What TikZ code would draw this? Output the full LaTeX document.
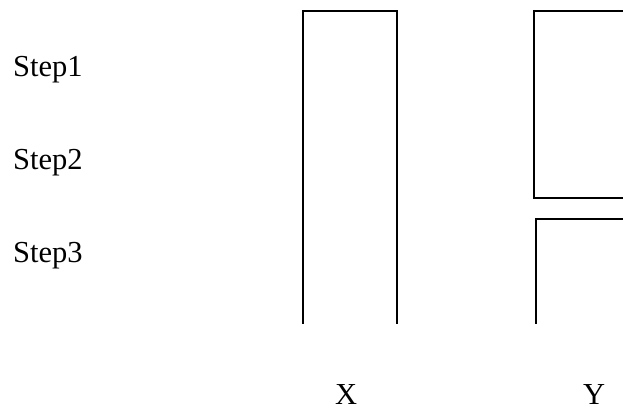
\documentclass[tikz,border=0pt]{standalone}
\usepackage{fontspec}
\setmainfont{Liberation Serif}
\begin{document}
\begin{tikzpicture}[x=1pt,y=-1pt,
  wall/.style={line width=1.8pt,line cap=rect},
  lbl/.style={font=\fontsize{30.5}{34}\selectfont,inner sep=0pt,anchor=base west}]
\useasboundingbox (0,0) rectangle (623,410);
\begin{scope}
\clip (0,0) rectangle (623,410);
% column X
\coordinate (xbl) at (303,323);
\coordinate (xtl) at (303,11);
\coordinate (xtr) at (397,11);
\coordinate (xbr) at (397,323);
\draw[wall] (xbl) -- (xtl) -- (xtr) -- (xbr);
% column Y upper box
\coordinate (ya) at (630,11);
\coordinate (yb) at (534,11);
\coordinate (yc) at (534,198);
\coordinate (yd) at (630,198);
\draw[wall] (ya) -- (yb) -- (yc) -- (yd);
% column Y lower box
\coordinate (ye) at (630,219);
\coordinate (yf) at (536,219);
\coordinate (yg) at (536,323);
\draw[wall] (ye) -- (yf) -- (yg);
\end{scope}
\node[lbl] (s1) at (13,76) {Step1};
\node[lbl] (s2) at (13,169) {Step2};
\node[lbl] (s3) at (13,262) {Step3};
\node[lbl] (lx) at (335,404) {X};
\node[lbl] (ly) at (583,404) {Y};
\end{tikzpicture}
\end{document}
